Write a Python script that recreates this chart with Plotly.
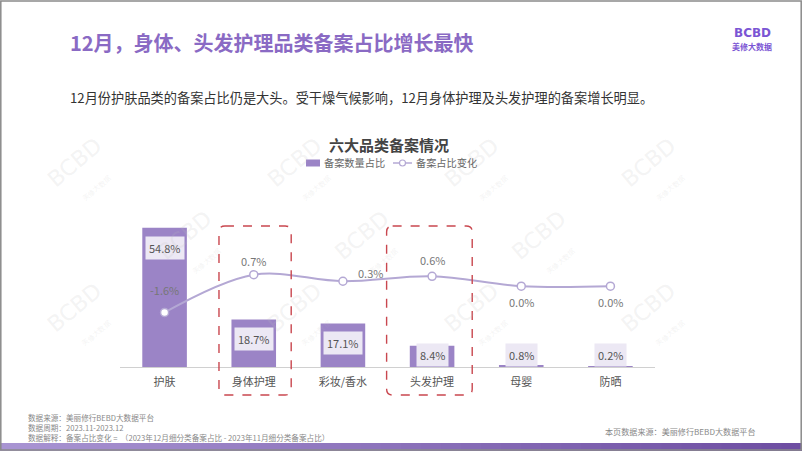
import plotly.graph_objects as go

# ---------------- data ----------------
categories = ["护肤", "身体护理", "彩妆/香水", "头发护理", "母婴", "防晒"]
share_pct = [54.8, 18.7, 17.1, 8.4, 0.8, 0.2]          # 备案数量占比
change_pct = [-1.6, 0.7, 0.3, 0.6, 0.0, 0.0]           # 备案占比变化
highlight = ["身体护理", "头发护理"]
series_names = ["备案数量占比", "备案占比变化"]

title_text = "12月，身体、头发护理品类备案占比增长最快"
subtitle_text = "12月份护肤品类的备案占比仍是大头。受干燥气候影响，12月身体护理及头发护理的备案增长明显。"
chart_title = "六大品类备案情况"
footer_lines = [
    "数据来源：美丽修行BEBD大数据平台",
    "数据周期：2023.11-2023.12",
    "数据解释：备案占比变化 =  （2023年12月细分类备案占比 - 2023年11月细分类备案占比）",
]
footer_right = "本页数据来源：美丽修行BEBD大数据平台"

# ---------------- style ----------------
W, H = 802, 451
FONT = "Noto Sans CJK SC"
BAR_COLOR = "#9b84c6"
LINE_COLOR = "#b4a8d4"
TITLE_COLOR = "#8a6ac4"
X0_PX, X1_PX = 120, 655
BASE_PX, TOP_PX = 367, 200
line_label_shift = [(0, 22), (0, 14), (28, 8), (0, 16), (0, -16), (0, -16)]
box_extent = {"身体护理": (-0.39, 0.42), "头发护理": (-0.51, 0.45)}  # index offsets
BOX_TOP_PX, BOX_BOT_PX = 226, 395


def px_x(px):
    return px / W


def px_y(py):
    return 1 - py / H


fig = go.Figure()

fig.add_trace(go.Bar(
    x=categories, y=share_pct, name=series_names[0],
    marker=dict(color=BAR_COLOR, line=dict(width=0)), width=0.5,
    hoverinfo="skip", showlegend=False,
))

fig.add_trace(go.Scatter(
    x=categories, y=change_pct, name=series_names[1], yaxis="y2",
    mode="lines+markers",
    line=dict(color=LINE_COLOR, width=2, shape="spline", smoothing=1),
    marker=dict(color="white", size=8, line=dict(color=LINE_COLOR, width=1.5)),
    cliponaxis=False, hoverinfo="skip", showlegend=False,
))

annotations = []
# bar value labels
for c, v in zip(categories, share_pct):
    annotations.append(dict(
        x=c, y=max(v - 7.8, 4.7), xref="x", yref="y", text=f"{v:.1f}%",
        showarrow=False, font=dict(family=FONT, size=11, color="#555555"),
        bgcolor="#ece8f4", borderpad=3,
    ))
# line value labels
for c, v, (dx, dy) in zip(categories, change_pct, line_label_shift):
    annotations.append(dict(
        x=c, y=v, xref="x", yref="y2", text=f"{v:.1f}%",
        showarrow=False, xshift=dx, yshift=dy,
        font=dict(family=FONT, size=11, color="#777777"),
    ))

# watermarks
wm_rows = [(130, 40), (245, 150), (360, 40)]
for wy, wx0 in wm_rows:
    wx = wx0
    while wx < W - 30:
        annotations.append(dict(
            x=px_x(wx), y=px_y(wy), xref="paper", yref="paper",
            text="BCBD<br><span style='font-size:7px'>美修大数据</span>",
            showarrow=False, textangle=-40,
            font=dict(family="DejaVu Sans", size=22, color="rgba(190,190,190,0.18)"),
        ))
        wx += 220

# titles and text
annotations += [
    dict(x=px_x(68), y=px_y(42), xref="paper", yref="paper", xanchor="left",
         yanchor="middle", text=f"<b>{title_text}</b>", showarrow=False,
         font=dict(family=FONT, size=20, color=TITLE_COLOR)),
    dict(x=px_x(68), y=px_y(97), xref="paper", yref="paper", xanchor="left",
         yanchor="middle", text=subtitle_text, showarrow=False,
         font=dict(family=FONT, size=13.2, color="#333333")),
    dict(x=px_x(389), y=px_y(144), xref="paper", yref="paper", xanchor="center",
         yanchor="middle", text=f"<b>{chart_title}</b>", showarrow=False,
         font=dict(family=FONT, size=15, color="#444444")),
    dict(x=px_x(752), y=px_y(33), xref="paper", yref="paper", xanchor="center",
         yanchor="middle", text="<b>BCBD</b>", showarrow=False,
         font=dict(family="DejaVu Sans", size=12, color="#7b55d4")),
    dict(x=px_x(752), y=px_y(46), xref="paper", yref="paper", xanchor="center",
         yanchor="middle", text="<b>美修大数据</b>", showarrow=False,
         font=dict(family=FONT, size=8, color="#7b55d4")),
    dict(x=px_x(757), y=px_y(431), xref="paper", yref="paper", xanchor="right",
         yanchor="middle", text=footer_right, showarrow=False,
         font=dict(family=FONT, size=8.1, color="#888888")),
    dict(x=px_x(26), y=px_y(410), xref="paper", yref="paper", xanchor="left",
         yanchor="top", text="<br>".join(footer_lines), showarrow=False,
         align="left", font=dict(family=FONT, size=7.6, color="#888888")),
    # custom legend texts
    dict(x=px_x(322), y=px_y(163), xref="paper", yref="paper", xanchor="left",
         yanchor="middle", text=series_names[0], showarrow=False,
         font=dict(family=FONT, size=10.2, color="#666666")),
    dict(x=px_x(414), y=px_y(163), xref="paper", yref="paper", xanchor="left",
         yanchor="middle", text=series_names[1], showarrow=False,
         font=dict(family=FONT, size=10.2, color="#666666")),
]

shapes = []
# custom legend symbols
shapes.append(dict(type="rect", xref="paper", yref="paper",
                   x0=px_x(306), x1=px_x(320), y0=px_y(166.5), y1=px_y(159.5),
                   fillcolor=BAR_COLOR, line=dict(width=0)))
shapes.append(dict(type="line", xref="paper", yref="paper",
                   x0=px_x(393), x1=px_x(412), y0=px_y(163), y1=px_y(163),
                   line=dict(color=LINE_COLOR, width=1.5)))
shapes.append(dict(type="circle", xref="paper", yref="paper",
                   x0=px_x(399.5), x1=px_x(405.5), y0=px_y(166), y1=px_y(160),
                   fillcolor="white", line=dict(color=LINE_COLOR, width=1.2)))

# highlight dashed rounded boxes
step = (X1_PX - X0_PX) / len(categories)
for name in highlight:
    idx = categories.index(name)
    cx = X0_PX + (idx + 0.5) * step
    lo, hi = box_extent[name]
    x0, x1 = cx + lo * step, cx + hi * step
    y0, y1 = BOX_TOP_PX, BOX_BOT_PX
    r = 6
    pts = [("M", x0 + r, y0), ("L", x1 - r, y0), ("Q", x1, y0, x1, y0 + r),
           ("L", x1, y1 - r), ("Q", x1, y1, x1 - r, y1), ("L", x0 + r, y1),
           ("Q", x0, y1, x0, y1 - r), ("L", x0, y0 + r), ("Q", x0, y0, x0 + r, y0)]
    path = ""
    for p in pts:
        cmd, coords = p[0], p[1:]
        pairs = [f"{px_x(coords[k]):.5f},{px_y(coords[k + 1]):.5f}" for k in range(0, len(coords), 2)]
        path += cmd + " " + " ".join(pairs) + " "
    path += "Z"
    shapes.append(dict(type="path", path=path, xref="paper", yref="paper",
                       line=dict(color="#c9474f", width=1.4, dash="dash"), layer="above"))

# bottom gradient band
n_strips = 40
c_left = (168, 148, 210)
c_right = (110, 78, 162)
for k in range(n_strips):
    t = k / (n_strips - 1)
    col = tuple(int(round(a + (b - a) * t)) for a, b in zip(c_left, c_right))
    shapes.append(dict(type="rect", xref="paper", yref="paper",
                       x0=k / n_strips, x1=(k + 1) / n_strips + 0.002,
                       y0=0, y1=px_y(443),
                       fillcolor=f"rgb{col}", line=dict(width=0), layer="below"))
# frame
shapes.append(dict(type="rect", xref="paper", yref="paper", x0=0.001, x1=0.999,
                   y0=0.002, y1=0.998, line=dict(color="#8a8a8a", width=1.5),
                   fillcolor="rgba(0,0,0,0)", layer="above"))

fig.update_layout(
    width=W, height=H, margin=dict(l=0, r=0, t=0, b=0),
    paper_bgcolor="white", plot_bgcolor="rgba(0,0,0,0)",
    font=dict(family=FONT),
    xaxis=dict(domain=[px_x(X0_PX), px_x(X1_PX)], type="category",
               range=[-0.5, len(categories) - 0.5], showgrid=False,
               showline=True, linecolor="#d0d0d0", linewidth=1, ticks="",
               ticklabelstandoff=5,
               tickfont=dict(family=FONT, size=11, color="#555555"),
               fixedrange=True),
    yaxis=dict(domain=[1 - BASE_PX / H, 1 - TOP_PX / H],
               range=[0, (BASE_PX - TOP_PX) / 2.54], fixedrange=True,
               showgrid=False, zeroline=False, showticklabels=False, showline=False),
    yaxis2=dict(overlaying="y", range=[-4.92, 5.245], showgrid=False, fixedrange=True,
                zeroline=False, showticklabels=False, showline=False),
    showlegend=False,
    annotations=annotations,
    shapes=shapes,
)

fig.write_html(
    "out.html",
    config={"displayModeBar": False},
    post_script="document.body.style.margin='0';document.body.style.overflow='hidden';",
)
